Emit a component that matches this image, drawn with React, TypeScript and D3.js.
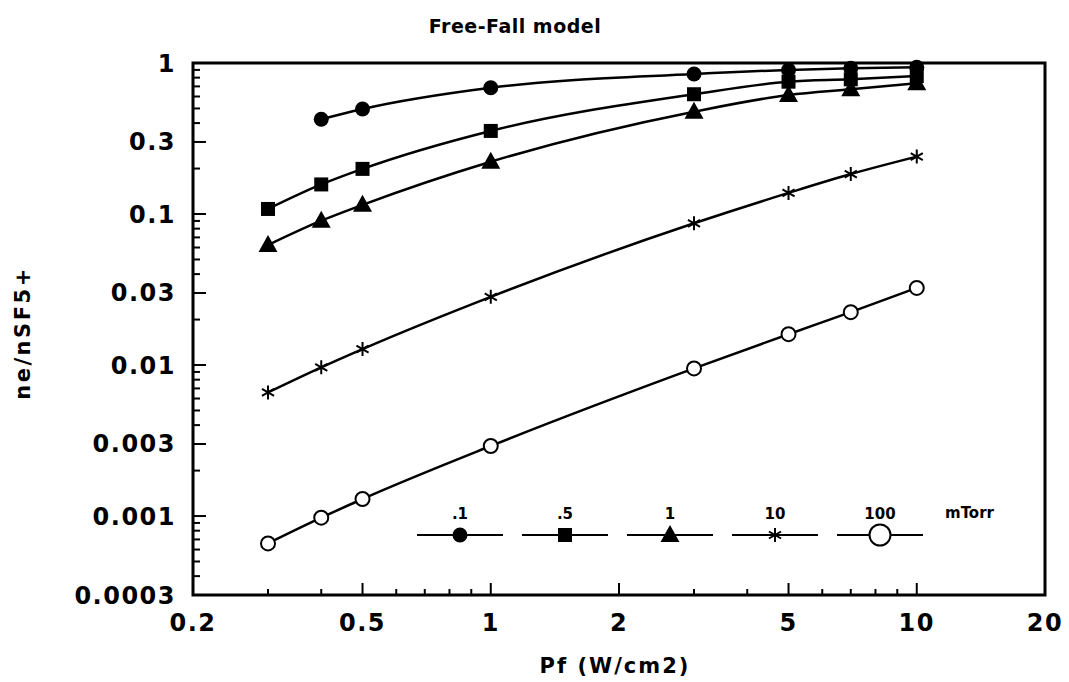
import React from "react";
import * as d3 from "d3";

const xAll = [0.3, 0.4, 0.5, 1, 3, 5, 7, 10];
const x01 = [0.4, 0.5, 1, 3, 5, 7, 10];
const y01 = [0.424, 0.496, 0.686, 0.845, 0.899, 0.922, 0.937];
const y05 = [0.108, 0.157, 0.199, 0.355, 0.621, 0.752, 0.78, 0.82];
const y1 = [0.0623, 0.0903, 0.115, 0.222, 0.476, 0.614, 0.67, 0.734];
const y10 = [0.00659, 0.00966, 0.01276, 0.0283, 0.0868, 0.138, 0.184, 0.24];
const y100 = [0.000659, 0.000975, 0.001297, 0.00291, 0.0095, 0.016, 0.0224, 0.0324];

const xTickLabels = [0.2, 0.5, 1, 2, 5, 10, 20];
const yTickLabels = [1, 0.3, 0.1, 0.03, 0.01, 0.003, 0.001, 0.0003];
const legendLabels = [".1", ".5", "1", "10", "100"];

type Kind = "dot" | "square" | "triangle" | "star" | "open";
const series: { name: string; kind: Kind; xs: number[]; ys: number[] }[] = [
  { name: ".1", kind: "dot", xs: x01, ys: y01 },
  { name: ".5", kind: "square", xs: xAll, ys: y05 },
  { name: "1", kind: "triangle", xs: xAll, ys: y1 },
  { name: "10", kind: "star", xs: xAll, ys: y10 },
  { name: "100", kind: "open", xs: xAll, ys: y100 },
];

const L = 193, R = 1045, T = 63, B = 595;
const FONT = "'DejaVu Sans', 'Liberation Sans', Arial, sans-serif";

function Marker({ kind, x, y, big }: { kind: Kind; x: number; y: number; big?: boolean }) {
  if (kind === "dot") return <circle cx={x} cy={y} r={7.5} fill="#000" />;
  if (kind === "square") return <rect x={x - 7} y={y - 7} width={14} height={14} fill="#000" />;
  if (kind === "triangle") {
    const p = d3.path();
    p.moveTo(x, y - 10);
    p.lineTo(x + 9.5, y + 7);
    p.lineTo(x - 9.5, y + 7);
    p.closePath();
    return <path d={p.toString()} fill="#000" />;
  }
  if (kind === "star") {
    const s = 7;
    const p = d3.path();
    [90, 30, 150].forEach((a) => {
      const r = (a * Math.PI) / 180;
      p.moveTo(x + s * Math.cos(r), y - s * Math.sin(r));
      p.lineTo(x - s * Math.cos(r), y + s * Math.sin(r));
    });
    return <path d={p.toString()} stroke="#000" strokeWidth={2} fill="none" />;
  }
  return <circle cx={x} cy={y} r={big ? 10.5 : 7} fill="#fff" stroke="#000" strokeWidth={2} />;
}

export default function App() {
  const x = d3.scaleLog().domain([0.2, 20]).range([L, R]);
  const y = d3.scaleLog().domain([0.0003, 1]).range([B, T]);

  const line = d3
    .line<[number, number]>()
    .x((d) => x(d[0]))
    .y((d) => y(d[1]))
    .curve(d3.curveMonotoneX);

  const xMinor: number[] = [];
  [0.1, 1, 10].forEach((dec) => {
    for (let k = 1; k <= 9; k++) {
      const v = dec * k;
      if (v > 0.2 && v < 20) xMinor.push(v);
    }
  });
  const yMinor: number[] = [];
  [0.0001, 0.001, 0.01, 0.1].forEach((dec) => {
    for (let k = 1; k <= 9; k++) {
      const v = dec * k;
      if (v > 0.0003 && v < 1) yMinor.push(v);
    }
  });
  const isLabeledX = (v: number) => xTickLabels.some((t) => Math.abs(t - v) < 1e-9);
  const isLabeledY = (v: number) => yTickLabels.some((t) => Math.abs(t - v) < 1e-12);

  const legX0 = 417, legW = 86, legGap = 105, legY = 535;

  return (
    <svg width={1069} height={682} style={{ position: "absolute", left: 0, top: 0, background: "#fff" }}>
      <rect x={0} y={0} width={1069} height={682} fill="#fff" />
      <text x={515} y={33} textAnchor="middle" fontFamily={FONT} fontWeight="bold" fontSize={19} letterSpacing={0.5}>
        Free-Fall model
      </text>

      <rect x={L} y={T} width={R - L} height={B - T} fill="none" stroke="#000" strokeWidth={3} />

      {xMinor.map((v) => (
        <line key={"xm" + v} x1={x(v)} x2={x(v)} y1={B} y2={B - (isLabeledX(v) ? 12 : 6)} stroke="#000" strokeWidth={2} />
      ))}
      {xTickLabels.map((v) => (
        <text key={"xl" + v} x={x(v)} y={631} textAnchor="middle" fontFamily={FONT} fontWeight="bold" fontSize={24} letterSpacing={1.5}>
          {String(v)}
        </text>
      ))}

      {yMinor.map((v) => (
        <line key={"ym" + v} x1={L} x2={L + (isLabeledY(v) ? 13 : 7)} y1={y(v)} y2={y(v)} stroke="#000" strokeWidth={2} />
      ))}
      {yTickLabels.map((v) => (
        <text key={"yl" + v} x={176} y={y(v) + 8.5} textAnchor="end" fontFamily={FONT} fontWeight="bold" fontSize={24} letterSpacing={1.5}>
          {String(v)}
        </text>
      ))}

      <text x={615} y={673} textAnchor="middle" fontFamily={FONT} fontWeight="bold" fontSize={21} letterSpacing={2}>
        Pf (W/cm2)
      </text>
      <text
        transform={`translate(30,333) rotate(-90)`}
        textAnchor="middle"
        fontFamily={FONT}
        fontWeight="bold"
        fontSize={21}
        letterSpacing={2.5}
      >
        ne/nSF5+
      </text>

      {series.map((s) => {
        const pts = s.xs.map((xv, i) => [xv, s.ys[i]] as [number, number]);
        return (
          <g key={s.name}>
            <path d={line(pts) || ""} fill="none" stroke="#000" strokeWidth={2.5} />
            {pts.map((p, i) => (
              <Marker key={i} kind={s.kind} x={x(p[0])} y={y(p[1])} />
            ))}
          </g>
        );
      })}

      {series.map((s, i) => {
        const x0 = legX0 + i * legGap;
        const cx = x0 + legW / 2;
        return (
          <g key={"lg" + s.name}>
            <line x1={x0} x2={x0 + legW} y1={legY} y2={legY} stroke="#000" strokeWidth={2} />
            <Marker kind={s.kind} x={cx} y={legY} big />
            <text x={cx} y={519} textAnchor="middle" fontFamily={FONT} fontWeight="bold" fontSize={15}>
              {legendLabels[i]}
            </text>
          </g>
        );
      })}
      <text x={945} y={518} fontFamily={FONT} fontWeight="bold" fontSize={15}>
        mTorr
      </text>
    </svg>
  );
}
